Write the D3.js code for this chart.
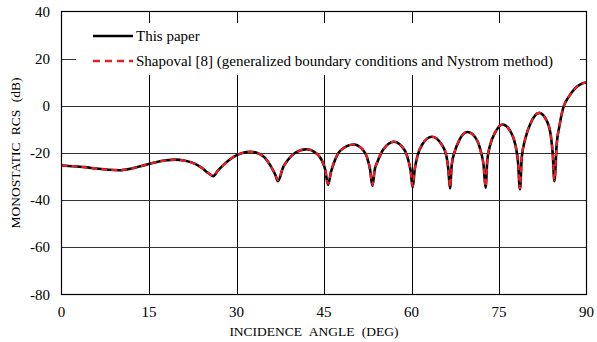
<!DOCTYPE html>
<html>
<head>
<meta charset="utf-8">
<script src="https://cdn.jsdelivr.net/npm/d3@7"></script>
<style>
  body { margin: 0; background: #fff; }
</style>
</head>
<body>
<div id="chart"></div>
<script>
// incidence angle (deg) and monostatic RCS (dB)
const angles = [0, 2, 4, 6, 8, 10, 12, 14, 16, 18, 19.5, 21, 22.5, 24, 25.2, 26,
  26.8, 28, 29.5, 31, 32.4, 34, 35.2, 36.2, 36.7, 37.1,
  38.0, 38.8, 40.0, 42.0, 43.6, 44.6, 45.2, 45.7,
  46.2, 46.8, 47.8, 50.1, 51.6, 52.4, 52.9, 53.3,
  53.7, 54.2, 55.1, 57.0, 58.8, 59.5, 59.85, 60.2,
  60.55, 61.0, 61.8, 63.5, 65.2, 66.0, 66.3, 66.6,
  66.9, 67.4, 68.2, 69.6, 71.1, 71.9, 72.35, 72.7,
  73.0, 73.5, 74.3, 75.6, 77.0, 77.8, 78.25, 78.6,
  78.9, 79.5, 80.4, 81.9, 83.3, 83.9, 84.2, 84.5,
  84.9, 85.4, 86.0, 87.0, 88.0, 89.0, 90];

const thisPaper = [-25.3, -25.6, -26.0, -26.6, -27.1, -27.3, -26.6, -25.3, -24.0, -23.1, -22.8, -23.2, -24.2, -26.2, -28.6, -29.8,
  -27.5, -24.5, -21.6, -20.0, -19.5, -20.5, -23.0, -27.0, -29.5, -32.0,
  -26.0, -23.0, -20.0, -18.4, -20.0, -23.0, -27.0, -33.5,
  -28.0, -23.5, -19.0, -16.4, -18.5, -22.0, -27.0, -34.0,
  -27.0, -23.5, -18.7, -15.2, -18.7, -23.5, -27.5, -34.6,
  -27.0, -21.5, -16.5, -13.1, -16.5, -21.5, -26.5, -35.0,
  -25.0, -19.5, -14.5, -11.1, -14.0, -19.5, -25.0, -34.7,
  -23.0, -16.5, -11.5, -7.9, -11.0, -16.5, -23.5, -35.4,
  -22.0, -14.0, -7.5, -3.0, -7.0, -13.0, -20.0, -32.0,
  -16.0, -8.0, -1.0, 4.0, 7.3, 9.2, 10.0];

const shapoval = [-25.3, -25.6, -26.0, -26.6, -27.1, -27.3, -26.6, -25.3, -24.0, -23.1, -22.8, -23.2, -24.2, -26.2, -28.6, -29.6,
  -27.5, -24.5, -21.6, -20.0, -19.5, -20.5, -23.0, -27.0, -29.5, -31.5,
  -26.0, -23.0, -20.0, -18.4, -20.0, -23.0, -27.0, -33.0,
  -28.0, -23.5, -19.0, -16.4, -18.5, -22.0, -27.0, -33.5,
  -27.0, -23.5, -18.7, -15.2, -18.7, -23.5, -27.5, -34.0,
  -27.0, -21.5, -16.5, -13.1, -16.5, -21.5, -26.5, -34.5,
  -25.0, -19.5, -14.5, -11.1, -14.0, -19.5, -25.0, -34.2,
  -23.0, -16.5, -11.5, -7.9, -11.0, -16.5, -23.5, -35.0,
  -22.0, -14.0, -7.5, -3.0, -7.0, -13.0, -20.0, -31.5,
  -16.0, -8.0, -1.0, 4.0, 7.3, 9.2, 10.0];

const xTicks = [0, 15, 30, 45, 60, 75, 90];
const yTicks = [40, 20, 0, -20, -40, -60, -80];
const legendLabels = ["This paper", "Shapoval [8] (generalized boundary conditions and Nystrom method)"];

const W = 597, H = 342;
const FONT = "'Liberation Serif', 'Times New Roman', 'DejaVu Serif', serif";
const svg = d3.select("#chart").append("svg").attr("width", W).attr("height", H)
  .attr("font-family", FONT);

const x = d3.scaleLinear().domain([0, 90]).range([61.5, 586.5]);
const y = d3.scaleLinear().domain([-80, 40]).range([294.5, 11.5]);

// grid
svg.append("g").selectAll("line").data(xTicks.slice(1, -1)).enter().append("line")
  .attr("x1", d => Math.round(x(d)) + 0.5).attr("x2", d => Math.round(x(d)) + 0.5)
  .attr("y1", y(40)).attr("y2", y(-80))
  .attr("stroke", "#000").attr("stroke-width", 1);
svg.append("g").selectAll("line").data(yTicks.slice(1, -1)).enter().append("line")
  .attr("x1", x(0)).attr("x2", x(90))
  .attr("y1", d => Math.round(y(d)) + 0.5).attr("y2", d => Math.round(y(d)) + 0.5)
  .attr("stroke", "#333").attr("stroke-width", 1);

// tick labels
svg.append("g").selectAll("text").data(xTicks).enter().append("text")
  .attr("x", d => x(d)).attr("y", 317)
  .attr("text-anchor", "middle").attr("font-size", 15)
  .text(d => d);
svg.append("g").selectAll("text").data(yTicks).enter().append("text")
  .attr("x", 50).attr("y", d => y(d) + 5)
  .attr("text-anchor", "end").attr("font-size", 15)
  .text(d => d);

// axis titles
svg.append("text")
  .attr("x", (x(0) + x(90)) / 2 - 10).attr("y", 336)
  .attr("text-anchor", "middle").attr("font-size", 13.5).attr("word-spacing", 4)
  .text("INCIDENCE ANGLE (DEG)");
svg.append("text")
  .attr("transform", `translate(20, ${(y(40) + y(-80)) / 2}) rotate(-90)`)
  .attr("text-anchor", "middle").attr("font-size", 13.5).attr("word-spacing", 4)
  .text("MONOSTATIC RCS (dB)");

// legend box hides the grid behind it
svg.append("rect").attr("x", 76).attr("y", 23).attr("width", 504).attr("height", 52).attr("fill", "#fff");

const pts1 = angles.map((a, i) => [a, thisPaper[i]]);
const pts2 = angles.map((a, i) => [a, shapoval[i]]);
const line = d3.line().x(d => x(d[0])).y(d => y(d[1])).curve(d3.curveMonotoneX);

svg.append("path").attr("d", line(pts1))
  .attr("fill", "none").attr("stroke", "#000").attr("stroke-width", 2.6);
svg.append("path").attr("d", line(pts2))
  .attr("fill", "none").attr("stroke", "#f01c24").attr("stroke-width", 2.2)
  .attr("stroke-dasharray", "6,4");

// frame
svg.append("rect").attr("x", x(0)).attr("y", y(40))
  .attr("width", x(90) - x(0)).attr("height", y(-80) - y(40))
  .attr("fill", "none").attr("stroke", "#000").attr("stroke-width", 1.2);

// legend
const leg = svg.append("g");
leg.append("line").attr("x1", 93).attr("x2", 133).attr("y1", 36).attr("y2", 36)
  .attr("stroke", "#000").attr("stroke-width", 2.6);
leg.append("line").attr("x1", 93).attr("x2", 133).attr("y1", 61).attr("y2", 61)
  .attr("stroke", "#f01c24").attr("stroke-width", 2.6).attr("stroke-dasharray", "7,5");
leg.selectAll("text").data(legendLabels).enter().append("text")
  .attr("x", 136).attr("y", (d, i) => 41 + i * 25)
  .attr("font-size", 15)
  .text(d => d);
</script>
</body>
</html>
